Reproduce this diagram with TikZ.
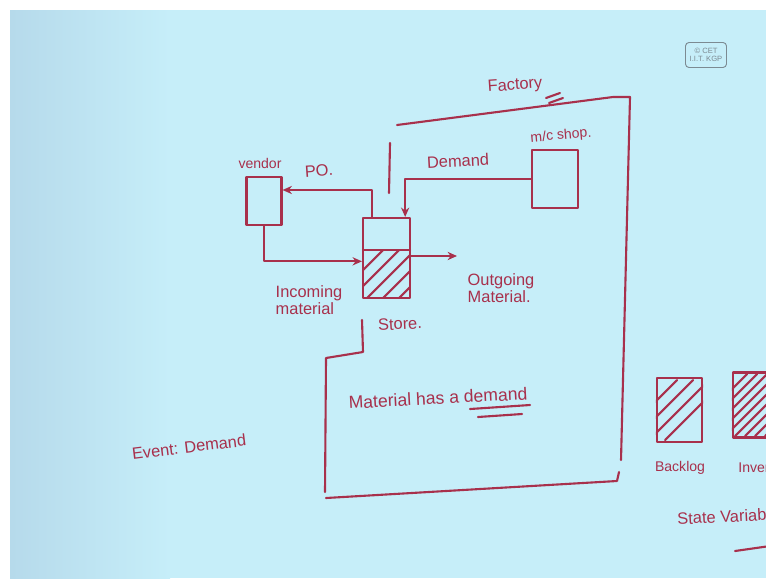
\documentclass[tikz,border=0pt]{standalone}
\usepackage{fontspec}
\setmainfont{Liberation Sans}
\usetikzlibrary{arrows.meta,positioning,calc}

\definecolor{board}{HTML}{C6EEF9}
\definecolor{boardedge}{HTML}{B6DAEB}
\definecolor{pen}{HTML}{A8304C}
\definecolor{stamp}{HTML}{7C8A92}

\begin{document}
\begin{tikzpicture}[
  x=0.03cm, y=-0.03cm,
  >={Stealth[length=8pt,width=7pt]},
  ink/.style={draw=pen, line width=1.8pt, line cap=round, line join=round},
  arr/.style={ink, ->},
  unit/.style={ink, inner sep=0pt},
  lbl/.style={text=pen, font=\fontsize{14}{15}\selectfont, inner sep=1pt},
  small/.style={lbl, font=\fontsize{12}{13}\selectfont},
  stampbox/.style={draw=stamp, line width=0.8pt, rounded corners=3pt,
              text=stamp, align=center, inner sep=1pt,
              font=\fontsize{6.5}{7}\selectfont,
              minimum width=1.23cm, minimum height=0.75cm},
]
\useasboundingbox (0,0) rectangle (766,578);
\clip (0,0) rectangle (766,578);

% === Board ===
\fill[white] (0,0) rectangle (766,578);
\fill[board] (10,10) rectangle (766,578);
\shade[left color=boardedge, right color=board] (10,10) rectangle (170,578);

\node[stampbox] (cet) at (706,55) {\textcopyright\ CET\\I.I.T. KGP};

% === Units ===
\node[unit, minimum width=1.05cm, minimum height=1.44cm] (vendor) at (264,201) {};
\node[unit, minimum width=1.41cm, minimum height=2.4cm] (store) at (386.5,258) {};
\node[unit, minimum width=1.38cm, minimum height=1.74cm] (shop) at (555,179) {};
\node[unit, minimum width=1.35cm, minimum height=1.9cm] (backlog) at (679.5,410) {};
\node[unit, minimum width=1.5cm, minimum height=1.95cm] (inv) at (758,405) {};

% store level line and hatching
\draw[ink] (363,250) -- (410,250);
\begin{scope}
  \clip (363,250) rectangle (410,298);
  \foreach \d in {-28,-12,4,20,36}
    \draw[ink] (363+\d,298) -- ++(48,-48);
\end{scope}

% backlog and inventory hatching
\begin{scope}
  \clip (backlog.south west) rectangle (backlog.north east);
  \foreach \d in {-40,-24,-8,8}
    \draw[ink] (657+\d,440) -- ++(60,-60);
\end{scope}
\begin{scope}
  \clip (inv.south west) rectangle (inv.north east);
  \foreach \d in {-50,-40,-30,-20,-10,0,10,20,30}
    \draw[ink] (735+\d,436) -- ++(62,-62);
\end{scope}

% === Labels ===
\node[small] (vendorlbl) at (260,163) {vendor};
\node[lbl, rotate=4] (polbl) at (319,171) {PO.};
\node[lbl, rotate=3] (demandlbl) at (458,161) {Demand};
\node[small, rotate=5] (shoplbl) at (561,136) {m/c shop.};
\node[lbl, rotate=4] (factorylbl) at (515,86) {Factory};
\node[lbl, align=left] (inlbl) at (309,300) {Incoming\\material};
\node[lbl, align=left] (outlbl) at (501,288) {Outgoing\\Material.};
\node[lbl, rotate=3] (storelbl) at (400,324) {Store.};
\node[lbl, rotate=3, font=\fontsize{15}{16}\selectfont] (matlbl) at (438,398) {Material has a demand};
\node[lbl, rotate=7] (eventlbl) at (189,447) {Event: Demand};
\node[small] (backloglbl) at (680,468) {Backlog};
\node[small, anchor=west] (invlbl) at (737,469) {Inventory};
\node[lbl, anchor=west, rotate=3] (statelbl) at (676,519) {State Variables};

% === Flows ===
\draw[arr] ([xshift=-0.44cm]store.north) |- ([yshift=0.33cm]vendor.east);
\draw[arr] (shop.west) -| ([xshift=0.56cm]store.north);
\draw[arr] (vendor.south) |- ([yshift=-0.1cm]store.west);
\coordinate (out) at (457,256);
\draw[arr] (store.east |- out) -- (out);

% === Factory boundary ===
\draw[ink] (397,125) -- (613,97) -- (630,97) -- (621,460);
\draw[ink] (326,498) -- (617,481) -- (619,472);
\draw[ink] (362,320) -- (363,352) -- (326,358) -- (325,492);
\draw[ink] (390,143) -- (389,193);

% underline marks
\draw[ink] (546,98) -- (560,93);
\draw[ink] (549,103) -- (563,98);
\draw[ink] (470,409) -- (530,405);
\draw[ink] (478,417) -- (522,414);
\draw[ink] (735,551) -- (770,546);

\end{tikzpicture}
\end{document}
